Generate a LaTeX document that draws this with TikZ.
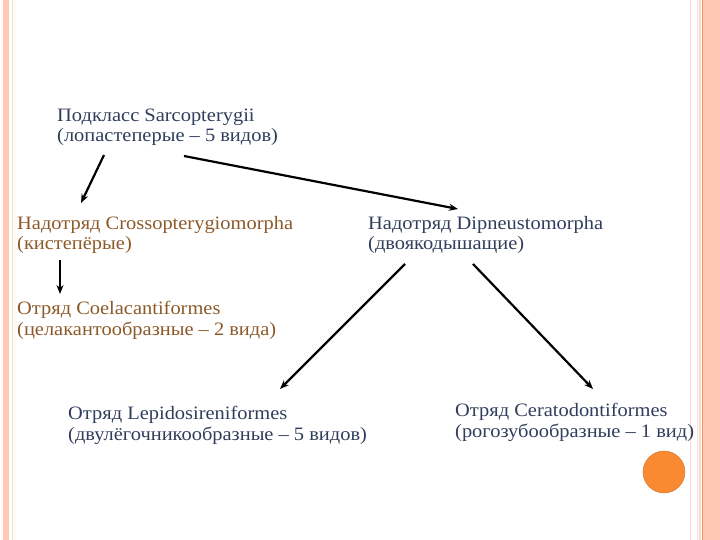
\documentclass[tikz,border=0pt]{standalone}
\usepackage{fontspec}
\setmainfont{Liberation Serif}[FakeStretch=1.08]
\usetikzlibrary{arrows.meta}
\definecolor{bluetxt}{RGB}{48,62,92}
\definecolor{browntxt}{RGB}{140,90,42}
\definecolor{stripe}{RGB}{255,200,180}
\definecolor{stripedark}{RGB}{240,150,110}
\definecolor{stripelight}{RGB}{245,222,210}
\definecolor{dotorange}{RGB}{250,138,50}
\tikzset{
  lbl/.style={anchor=base west, align=left, inner sep=0pt,
    font=\fontsize{19}{21}\selectfont},
  blu/.style={lbl, text=bluetxt},
  brn/.style={lbl, text=browntxt},
  arr/.style={-{Stealth[length=9bp,width=7bp]}, line width=2.2bp, black}
}
\begin{document}
\begin{tikzpicture}[x=1bp,y=-1bp]
\useasboundingbox (0,0) rectangle (720,540);
% borders
\fill[stripe] (3,0) rectangle (9,540);
\draw[stripelight, line width=0.8bp] (12,0) -- (12,540);
\draw[yellow!15, line width=0.8bp] (14,0) -- (14,540);
\draw[stripelight, line width=1bp] (690,0) -- (690,540);
\draw[stripelight, line width=1bp] (697,0) -- (697,540);
\draw[stripe!70, line width=1.5bp] (700,0) -- (700,540);
\fill[stripe] (703,0) rectangle (720,540);
\draw[stripedark, line width=1bp] (702.5,0) -- (702.5,540);
% nodes (anchored at baseline of the second line)
\node[blu] (sarc) at (57,142) {Подкласс Sarcopterygii\\(лопастеперые – 5 видов)};
\node[brn] (cross) at (17,250) {Надотряд Crossopterygiomorpha\\(кистепёрые)};
\node[brn] (coel) at (17,335) {Отряд Coelacantiformes\\(целакантообразные – 2 вида)};
\node[blu] (dipn) at (368,250) {Надотряд Dipneustomorpha\\(двоякодышащие)};
\node[blu] (lepi) at (68,440) {Отряд Lepidosireniformes\\(двулёгочникообразные – 5 видов)};
\node[blu] (cera) at (455,437) {Отряд Ceratodontiformes\\(рогозубообразные – 1 вид)};
\node[circle, fill=dotorange, draw=dotorange!85!black, line width=0.4bp,
  minimum size=42bp, inner sep=0pt] (dot) at (664,472) {};
% arrow end points
\coordinate (a1s) at (104,155);
\coordinate (a1e) at (81,203);
\coordinate (a2s) at (184,156);
\coordinate (a2e) at (458,209);
\coordinate (a3s) at (60,260);
\coordinate (a3e) at (60,294);
\coordinate (a4s) at (405,264);
\coordinate (a4e) at (280,389);
\coordinate (a5s) at (473,264);
\coordinate (a5e) at (593,389);
\draw[arr] (a1s) -- (a1e);
\draw[arr] (a2s) -- (a2e);
\draw[arr] (a3s) -- (a3e);
\draw[arr] (a4s) -- (a4e);
\draw[arr] (a5s) -- (a5e);
\end{tikzpicture}
\end{document}
